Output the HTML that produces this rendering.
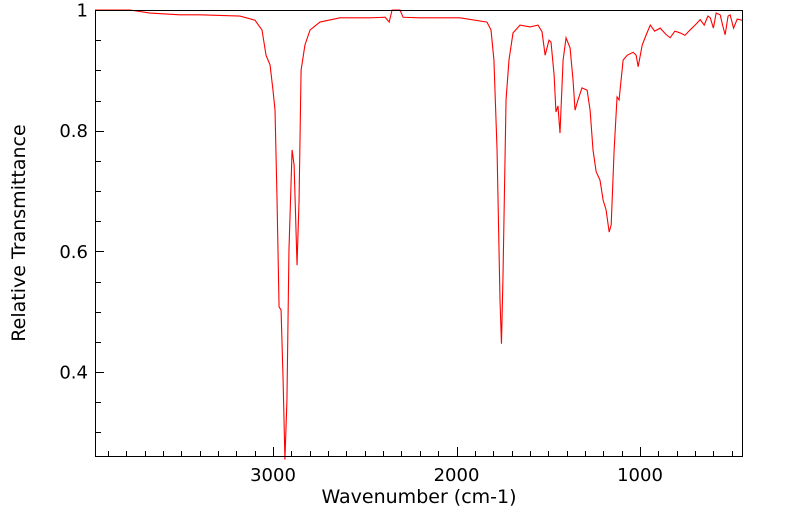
<!DOCTYPE html>
<html><head><meta charset="utf-8"><style>
html,body{margin:0;padding:0;background:#fff;}
svg{display:block;font-family:"DejaVu Sans","Liberation Sans",sans-serif;}
</style></head><body>
<svg id="chart" width="799" height="516">
<g id="ticks"></g>
<g id="plot"></g>
<rect x="95.5" y="10.5" width="647" height="446" fill="none" stroke="#000" stroke-width="1"/>
<text x="419" y="503" font-size="19" text-anchor="middle">Wavenumber (cm-1)</text>
<text transform="translate(25,233) rotate(-90)" font-size="19" text-anchor="middle">Relative Transmittance</text>
</svg>
<script>
const wavenumbers=[3970,3780,3670,3507,3398,3180,3098,3060,3038,3016,3000,2989,2978,2967,2956,2945,2935,2924,2913,2896,2885,2869,2858,2847,2826,2798,2744,2635,2471,2389,2367,2351,2308,2291,2199,1981,1834,1812,1796,1779,1763,1755,1747,1730,1714,1692,1654,1599,1556,1534,1517,1496,1485,1468,1458,1447,1436,1419,1403,1381,1365,1354,1338,1316,1288,1272,1256,1239,1218,1201,1185,1168,1157,1141,1125,1114,1092,1070,1037,1021,1010,988,966,944,920,890,860,836,810,781,755,727,700,672,650,630,617,600,585,563,550,536,520,509,490,470,444];
const transmittance=[1.0,1.0,0.995,0.992,0.992,0.99,0.983,0.967,0.925,0.909,0.867,0.834,0.685,0.508,0.503,0.387,0.255,0.354,0.602,0.768,0.743,0.577,0.685,0.9,0.942,0.967,0.98,0.987,0.987,0.988,0.98,1.0,1.0,0.988,0.987,0.987,0.98,0.967,0.917,0.768,0.52,0.447,0.553,0.851,0.917,0.962,0.975,0.972,0.975,0.964,0.925,0.95,0.947,0.892,0.831,0.841,0.796,0.917,0.954,0.937,0.884,0.834,0.851,0.871,0.867,0.834,0.768,0.732,0.718,0.685,0.669,0.632,0.644,0.768,0.856,0.851,0.917,0.925,0.93,0.925,0.906,0.942,0.959,0.975,0.965,0.97,0.96,0.954,0.965,0.962,0.958,0.967,0.975,0.984,0.975,0.99,0.987,0.97,0.995,0.992,0.975,0.959,0.99,0.992,0.97,0.985,0.983];
const xMajorTicks=[3000,2000,1000];
const yMajorTicks=[0.4,0.6,0.8,1];
const yTickLabels=["0.4","0.6","0.8","1"];
function xs(w){return 273+(3000-w)*0.1835;}
function ys(t){return 10+(1-t)*603.5;}
const NS="http://www.w3.org/2000/svg";
const plot=document.getElementById('plot'),tk=document.getElementById('ticks'),svg=document.getElementById('chart');
let d="";
for(let i=0;i<wavenumbers.length;i++){d+=(i?"L":"M")+xs(wavenumbers[i]).toFixed(2)+","+ys(transmittance[i]).toFixed(2);}
const p=document.createElementNS(NS,'path');
p.setAttribute('d',d);p.setAttribute('fill','none');p.setAttribute('stroke','#ff0000');p.setAttribute('stroke-width','1.1');


plot.appendChild(p);
function line(x1,y1,x2,y2){const l=document.createElementNS(NS,'line');l.setAttribute('x1',x1);l.setAttribute('y1',y1);l.setAttribute('x2',x2);l.setAttribute('y2',y2);l.setAttribute('stroke','#000');l.setAttribute('stroke-width','1');tk.appendChild(l);return l;}
for(let w=3900;w>=500;w-=100){const x=Math.round(xs(w))+0.5;const maj=xMajorTicks.includes(w);const l=line(x,456,x,maj?447:451);

}
xMajorTicks.forEach(w=>{const t=document.createElementNS(NS,'text');t.setAttribute('x',xs(w));t.setAttribute('y',481);t.setAttribute('font-size','18');t.setAttribute('text-anchor','middle');t.textContent=String(w);


svg.appendChild(t);});
for(let k=0;k<15;k++){const v=0.3+k*0.05;const y=Math.round(ys(v))+0.5;if(y>456||y<10)continue;const maj=yMajorTicks.some(m=>Math.abs(m-v)<1e-6);const l=line(96,y,maj?104:101,y);

}
yMajorTicks.forEach((v,i)=>{const t=document.createElementNS(NS,'text');t.setAttribute('x',88);t.setAttribute('y',ys(v)+6.5);t.setAttribute('font-size','18');t.setAttribute('text-anchor','end');t.textContent=yTickLabels[i];


svg.appendChild(t);});
</script>
</body></html>
